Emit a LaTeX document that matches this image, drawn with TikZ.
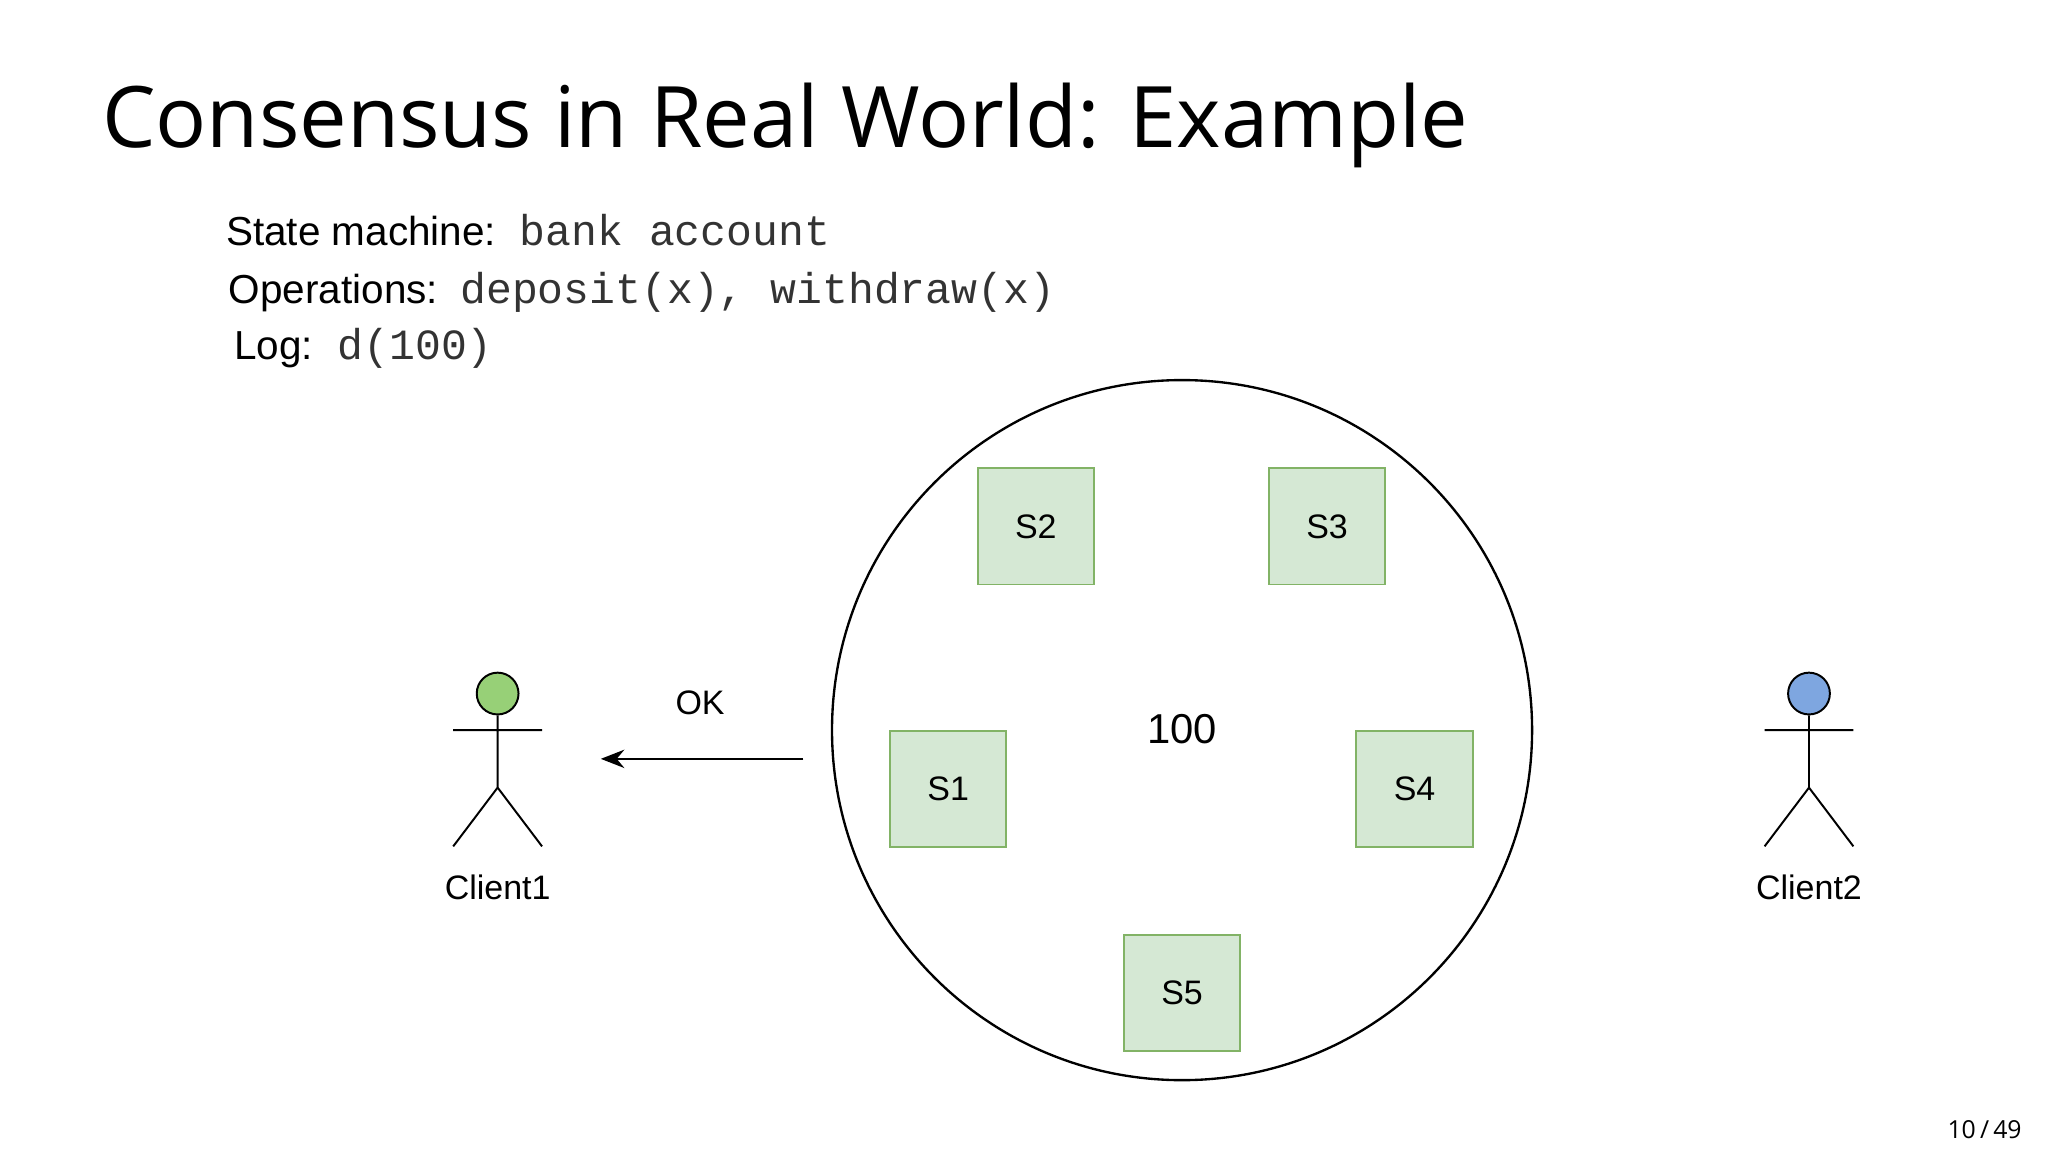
\documentclass[tikz,border=0pt]{standalone}
\usepackage{fontspec}
\setmainfont{Liberation Sans}
\setmonofont{Liberation Mono}
\newfontfamily\titlefont{Open Sans}
\newcommand{\mtext}[1]{{\fontsize{33}{36}\selectfont\ttfamily #1}}
\usetikzlibrary{arrows.meta}
\begin{document}
\begin{tikzpicture}[x=1pt,y=-1pt,
  srv/.style={draw=srvborder,fill=srvfill,line width=1.5pt,minimum size=89pt,inner sep=0pt,font=\fontsize{26}{30}\selectfont},
  lbl/.style={font=\fontsize{26}{30}\selectfont,inner sep=0pt},
  stick/.style={line width=1.5pt}]
\definecolor{srvfill}{HTML}{D5E8D4}
\definecolor{srvborder}{HTML}{82B366}
\definecolor{greenhead}{HTML}{97D077}
\definecolor{bluehead}{HTML}{7EA6E0}
\definecolor{monogray}{HTML}{333333}
\useasboundingbox (0,0) rectangle (1568,882);
\node[anchor=base west,inner sep=0pt,font=\titlefont\fontsize{65}{76}\selectfont] (title) at (78,113) {Consensus in Real World: Example};
\node[anchor=base west,inner sep=0pt,font=\fontsize{31}{36}\selectfont] (l1) at (173,188) {State machine:\hspace{18pt}\textcolor{monogray}{\mtext{bank account}}};
\node[anchor=base west,inner sep=0pt,font=\fontsize{31}{36}\selectfont] (l2) at (175,232) {Operations:\hspace{17pt}\textcolor{monogray}{\mtext{deposit(x), withdraw(x)}}};
\node[anchor=base west,inner sep=0pt,font=\fontsize{31}{36}\selectfont] (l3) at (179,275) {Log:\hspace{19pt}\textcolor{monogray}{\mtext{d(100)}}};
\node[draw,circle,line width=1.8pt,minimum size=536pt,inner sep=0pt] (ring) at (905,559) {};
\node[srv] (s2) at (793,403) {S2};
\node[srv] (s3) at (1016,403) {S3};
\node[srv] (s1) at (726,604) {S1};
\node[srv] (s4) at (1083,604) {S4};
\node[srv] (s5) at (905,760) {S5};
\node[lbl,font=\fontsize{32}{36}\selectfont] (val) at (905,558) {100};
\coordinate (ast) at (615,581);
\coordinate (aen) at (460,581);
\draw[line width=1.8pt,-{Stealth[length=18pt,width=14pt]}] (ast) -- (aen);
\node[lbl] (ok) at (536,538) {OK};
% client1
\node[draw,circle,fill=greenhead,line width=1.5pt,minimum size=32pt,inner sep=0pt] (h1) at (381,531) {};
\coordinate (b1) at (381,603);
\draw[stick] (h1.south) -- (b1) (347,559) -- (415,559) (347,648) -- (b1) -- (415,648);
\node[lbl] (c1) at (381,679) {Client1};
% client2
\node[draw,circle,fill=bluehead,line width=1.5pt,minimum size=32pt,inner sep=0pt] (h2) at (1385,531) {};
\coordinate (b2) at (1385,603);
\draw[stick] (h2.south) -- (b2) (1351,559) -- (1419,559) (1351,648) -- (b2) -- (1419,648);
\node[lbl] (c2) at (1385,679) {Client2};
\node[anchor=base east,inner sep=0pt,font=\titlefont\fontsize{19}{22}\selectfont] (pg) at (1548,872) {10\,/\,49};
\end{tikzpicture}
\end{document}
